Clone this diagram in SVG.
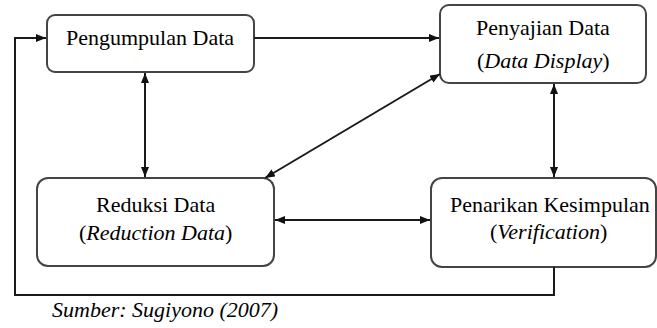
<svg xmlns="http://www.w3.org/2000/svg" width="657" height="328" viewBox="0 0 657 328">
<defs>
<marker id="ah" viewBox="0 0 10 8" refX="10" refY="4" markerWidth="10" markerHeight="8" markerUnits="userSpaceOnUse" orient="auto-start-reverse">
<path d="M0,0 L10,4 L0,8 Z" fill="#111"/>
</marker>
</defs>
<rect width="657" height="328" fill="#fff"/>
<g id="n1"><rect x="47" y="15" width="207" height="57" rx="8" fill="#fff" stroke="#444" stroke-width="2"/></g>
<g id="n2"><rect x="440" y="5" width="206" height="78" rx="9" fill="#fff" stroke="#444" stroke-width="2"/></g>
<g id="n3"><rect x="37" y="178" width="237" height="88" rx="11" fill="#fff" stroke="#444" stroke-width="2"/></g>
<g id="n4"><rect x="431" y="178" width="225" height="89" rx="11" fill="#fff" stroke="#444" stroke-width="2"/></g>
<g id="connectors" fill="none" stroke="#1a1a1a" stroke-width="2">
<line x1="254" y1="38" x2="439" y2="38" marker-end="url(#ah)"/>
<line x1="145" y1="73" x2="145" y2="177" marker-start="url(#ah)" marker-end="url(#ah)"/>
<line x1="554" y1="84" x2="554" y2="177" marker-start="url(#ah)" marker-end="url(#ah)"/>
<line x1="265" y1="178" x2="440" y2="74" marker-start="url(#ah)" marker-end="url(#ah)"/>
<line x1="275" y1="220" x2="430" y2="220" marker-start="url(#ah)" marker-end="url(#ah)"/>
<polyline points="554,267 554,295 15,295 15,38 46,38" marker-end="url(#ah)"/>
</g>
<text x="66" y="45" font-size="22" font-family="Liberation Serif" style="font-family:'Liberation Serif'">Pengumpulan Data</text>
<text x="476" y="35" font-size="22" font-family="Liberation Serif" style="font-family:'Liberation Serif'">Penyajian Data</text>
<text x="477" y="68" font-size="22" font-family="Liberation Serif" style="font-family:'Liberation Serif'">(<tspan font-style="italic">Data Display</tspan>)</text>
<text x="96" y="212" font-size="22" font-family="Liberation Serif" style="font-family:'Liberation Serif'">Reduksi Data</text>
<text x="79" y="240" font-size="22" font-family="Liberation Serif" style="font-family:'Liberation Serif'">(<tspan font-style="italic">Reduction Data</tspan>)</text>
<text x="450" y="212" font-size="22" font-family="Liberation Serif" style="font-family:'Liberation Serif'">Penarikan Kesimpulan</text>
<text x="490" y="239" font-size="22" font-family="Liberation Serif" style="font-family:'Liberation Serif'">(<tspan font-style="italic">Verification</tspan>)</text>
<text x="52" y="317" font-size="22" font-family="Liberation Serif" font-style="italic" style="font-family:'Liberation Serif'">Sumber: Sugiyono (2007)</text>
</svg>
